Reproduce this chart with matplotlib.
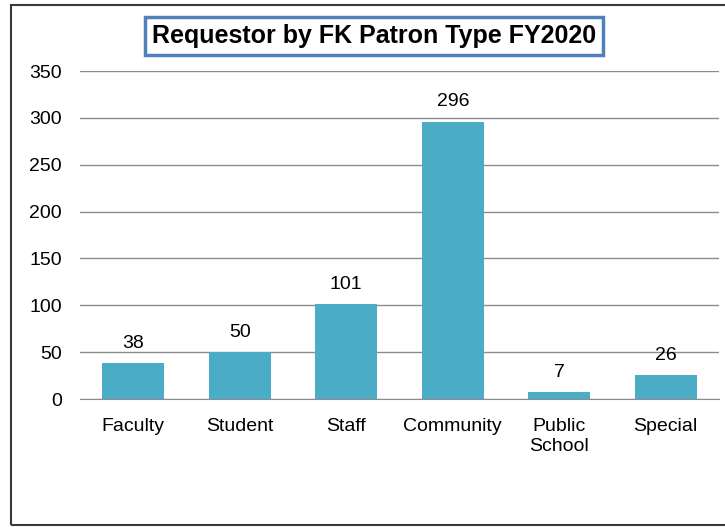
import matplotlib
matplotlib.use("Agg")
import matplotlib.pyplot as plt
from matplotlib.patches import Rectangle

categories = ["Faculty", "Student", "Staff", "Community", "Public\nSchool", "Special"]
values = [38, 50, 101, 296, 7, 26]
yticks = [0, 50, 100, 150, 200, 250, 300, 350]
title = "Requestor by FK Patron Type FY2020"

plt.rcParams['font.family'] = ['Liberation Sans', 'DejaVu Sans']

W, H = 725, 527
fig = plt.figure(figsize=(W/100, H/100), dpi=100)
fig.patch.set_facecolor('white')

# outer chart border
fig.patches.append(Rectangle((11/W, 2/H), 1.2, (525-5)/H, transform=fig.transFigure,
                             fill=False, edgecolor='#3a3a3a', linewidth=1.5))

ax = fig.add_axes([80/W, 1-399/H, (719-80)/W, (399-71)/H])
x = range(len(categories))
bars = ax.bar(x, values, width=0.58, color='#4BACC6', zorder=3)
ax.set_xlim(-0.5, len(categories)-0.5)
ax.set_ylim(0, 350)
ax.set_yticks(yticks)
ax.set_xticks(list(x))
ax.set_xticklabels(categories, fontsize=14, linespacing=1.25)
ax.tick_params(axis='y', labelsize=14, length=0, pad=13)
ax.tick_params(axis='x', length=0, pad=13.5)
ax.grid(axis='y', color='#8c8c8c', linewidth=1, zorder=0)
for s in ['top', 'right', 'left']:
    ax.spines[s].set_visible(False)
ax.spines['bottom'].set_color('#8c8c8c')
ax.spines['bottom'].set_zorder(4)

for b, v in zip(bars, values):
    ax.annotate(str(v), (b.get_x()+b.get_width()/2, v), xytext=(0, 8),
                textcoords='offset points', ha='center', va='bottom', fontsize=14)

fig.text(374/W, 1-36/H, title, ha='center', va='center', fontsize=18, fontweight='bold',
         bbox=dict(boxstyle='square,pad=0.27', facecolor='white', edgecolor='#4F81BD', linewidth=2.5))

fig.savefig('out.png', dpi=100)
